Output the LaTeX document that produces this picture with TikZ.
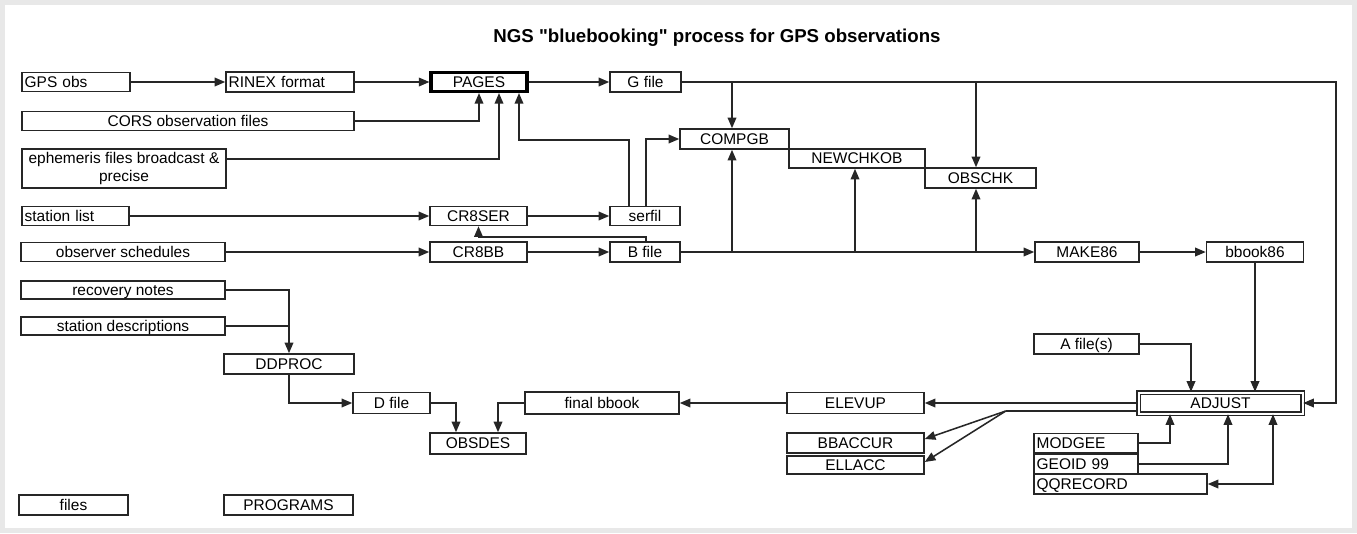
\documentclass[tikz,border=0pt]{standalone}
\usepackage{fontspec}
\setmainfont{Liberation Sans}[Ligatures=TeXOff]
\usetikzlibrary{arrows.meta,calc}

\tikzset{every picture/.style={line width=0.75pt}}
\tikzset{
  box/.style={draw=black!85, line width=1.15pt, inner xsep=2pt, inner ysep=0pt,
    minimum height=15pt, text height=9.4pt, text depth=1.2pt, align=center,
    font=\fontsize{11.6}{12.8}\selectfont},
  bw/.style={minimum width=#1*0.75pt},
  bh/.style={minimum height=#1*0.75pt},
  lbox/.style={box, text width=#1*0.75pt-4pt, align=left},
  prog/.style={box, line width=2.3pt, draw=black},
  dbl/.style={box, double, double distance=1.5pt, line width=1.1pt},
  link/.style={draw=black!85, line width=1.15pt},
  flow/.style={link, -{Triangle[length=8pt,width=6.5pt]}},
  both/.style={link, {Triangle[length=8pt,width=6.5pt]}-{Triangle[length=8pt,width=6.5pt]}}
}

\begin{document}
\begin{tikzpicture}[x=0.75pt,y=0.75pt,yscale=-1,xscale=1]
  \useasboundingbox (0,0) rectangle (1357,533);
  %Frame
  \fill[black!9] (0,0) rectangle (1357,533);
  \fill[white] (5,5) rectangle (1352,528);

  %Title
  \node[font=\bfseries\fontsize{14}{16}\selectfont] (title) at (717,38) {NGS "bluebooking" process for GPS observations};

  %Input files
  \node[lbox=108, bh=19] (gps) at (76,82) {GPS obs};
  \node[lbox=128] (rinex) at (290,82) {RINEX format};
  \node[box, bw=332, bh=19] (cors) at (188,121) {CORS observation files};
  \node[box, bw=204, bh=39, text height={}, text depth={}] (ephem) at (124,168.5) {ephemeris files broadcast \&\\precise};
  \node[lbox=107, bh=19] (stlist) at (75.5,216) {station list};
  \node[box, bw=204, bh=19] (obssch) at (123,252) {observer schedules};
  \node[box, bw=204, bh=18] (recov) at (123,290) {recovery notes};
  \node[box, bw=204, bh=18] (stdesc) at (123,326) {station descriptions};

  %Programs and files
  \node[prog, bw=96, bh=19] (pages) at (479,82) {PAGES};
  \node[box, bw=71] (gfile) at (645.5,82) {G file};
  \node[box, bw=97, bh=19] (cr8ser) at (478.5,216) {CR8SER};
  \node[box, bw=70, bh=19] (serfil) at (645,216) {serfil};
  \node[box, bw=97] (cr8bb) at (478.5,252) {CR8BB};
  \node[box, bw=70] (bfile) at (645,252) {B file};
  \node[box, bw=109] (compgb) at (734.5,139) {COMPGB};
  \node[box, bw=136, bh=19] (newchkob) at (857,158.5) {NEWCHKOB};
  \node[box, bw=111] (obschk) at (980.5,178) {OBSCHK};
  \node[box, bw=104] (make86) at (1087,252) {MAKE86};
  \node[box, bw=97] (bbook86) at (1255,252) {bbook86};
  \node[box, bw=130] (ddproc) at (289,364) {DDPROC};
  \node[box, bw=77, bh=21] (dfile) at (391.5,403) {D file};
  \node[box, bw=96, bh=21] (obsdes) at (478,443.5) {OBSDES};
  \node[box, bw=154, bh=22] (finalbb) at (602,403) {final bbook};
  \node[box, bw=137, bh=21] (elevup) at (855.5,403) {ELEVUP};
  \node[box, bw=137] (bbaccur) at (855.5,443) {BBACCUR};
  \node[box, bw=137, bh=18] (ellacc) at (855.5,465) {ELLACC};
  \node[box, bw=105] (afiles) at (1086.5,344) {A file(s)};
  \node[dbl, bw=164, bh=21] (adjust) at (1220.5,403) {ADJUST};
  \node[lbox=104, bh=19] (modgee) at (1086,443) {MODGEE};
  \node[lbox=104] (geoid) at (1086,464) {GEOID 99};
  \node[lbox=173] (qqrec) at (1120.5,484) {QQRECORD};

  %Key
  \node[box, bw=109] (files) at (73.5,505) {files};
  \node[box, bw=129] (programs) at (288.5,505) {PROGRAMS};

  %Into PAGES
  \draw[flow] (gps.east) -- (rinex.west);
  \draw[flow] (rinex.east) -- (pages.west);
  \draw[flow] (cors.east) -| (pages.south);
  \draw[flow] ($(ephem.north east)+(0,11)$) -| ($(pages.south)+(20,0)$);
  \draw[flow] ($(serfil.north)+(-16,0)$) -- ++(0,-66) -| ($(pages.south)+(40,0)$);
  \draw[flow] (pages.east) -- (gfile.west);

  %Station list and schedules
  \draw[flow] (stlist.east) -- (cr8ser.west);
  \draw[flow] (cr8ser.east) -- (serfil.west);
  \draw[flow] (obssch.east) -- (cr8bb.west);
  \draw[flow] (cr8bb.east) -- (bfile.west);
  \draw[flow] ($(bfile.north)+(1,0)$) -- ++(0,-4) -| (cr8ser.south);
  \draw[flow] ($(serfil.north)+(1,0)$) |- (compgb.west);

  %G file
  \draw[flow] (gfile.east) -| ($(adjust.east)+(33,0)$) -- (adjust.east);
  \draw[flow] ($(compgb.north)+(-2.5,0)$) ++(0,-47) -- ($(compgb.north)+(-2.5,0)$);
  \draw[flow] ($(obschk.north)+(-4.5,0)$) ++(0,-86) -- ($(obschk.north)+(-4.5,0)$);

  %B file
  \draw[flow] (bfile.east) -- (make86.west);
  \draw[flow] ($(compgb.south)+(-2.5,0)$) ++(0,103) -- ($(compgb.south)+(-2.5,0)$);
  \draw[flow] ($(newchkob.south)+(-2,0)$) ++(0,84) -- ($(newchkob.south)+(-2,0)$);
  \draw[flow] ($(obschk.south)+(-4.5,0)$) ++(0,64) -- ($(obschk.south)+(-4.5,0)$);
  \draw[flow] (make86.east) -- (bbook86.west);

  %ADJUST
  \draw[flow] (bbook86.south) -- (bbook86.south |- adjust.north);
  \draw[flow] (afiles.east) -| ($(adjust.north)+(-29.5,0)$);
  \draw[flow] (modgee.east) -| ($(adjust.south)+(-50.5,0)$);
  \draw[flow] (geoid.east) -| ($(adjust.south)+(7.5,0)$);
  \draw[both] (qqrec.east) -| ($(adjust.south)+(52.5,0)$);
  \draw[flow] (adjust.west) -- (adjust.west -| elevup.east);
  \coordinate (split) at ($(adjust.west)+(-132,8)$);
  \draw[link] ($(adjust.west)+(0,8)$) -- (split);
  \draw[flow] (split) -- ($(bbaccur.east)+(0,-4)$);
  \draw[flow] (split) -- ($(ellacc.east)+(0,-3)$);
  \draw[flow] (elevup.west) -- (elevup.west -| finalbb.east);

  %Descriptions
  \draw[flow] (recov.east) -| (ddproc.north);
  \draw[link] (stdesc.east) -- (stdesc.east -| ddproc.north);
  \draw[flow] (ddproc.south) |- (dfile.west);
  \draw[flow] (dfile.east) -| ($(obsdes.north)+(-22,0)$);
  \draw[flow] (finalbb.west) -| ($(obsdes.north)+(20,0)$);
\end{tikzpicture}
\end{document}
